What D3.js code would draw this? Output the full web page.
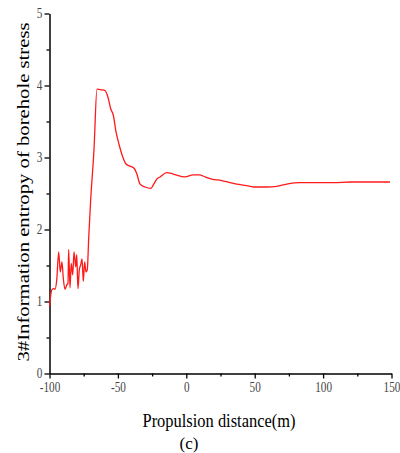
<!DOCTYPE html>
<html>
<head>
<meta charset="utf-8">
<script src="https://cdn.jsdelivr.net/npm/d3@7"></script>
<style>
  body { margin: 0; background: #fff; }
  svg { display: block; }
</style>
</head>
<body>
<svg width="400" height="453"></svg>
<script>
// distance (m) and entropy
const distance = [-100, -98.4, -97.2, -96, -94.7, -93.3, -92.1, -90.9, -89.9, -88.7, -87.4, -86.5, -86, -85,
  -84.1, -83, -82.1, -80.8, -80.1, -79.2, -78.2, -77.2, -76.2, -75.3, -74.3, -73.3, -72.4, -71.3, -69.9,
  -67.5, -65.3, -62, -59.4, -57, -55.3, -53.4, -51.4, -49, -46.5, -44.1, -41.2, -38.2, -36.3, -33.8,
  -30.2, -26, -24.1, -21.6, -19.2, -14.3, -9.5, -1, 5.1, 9.5, 13.7, 18.6, 25.9, 31.9, 36.8, 44.2, 49,
  58.8, 66.1, 73.4, 83.1, 95.3, 107.5, 119.7, 131.9, 148.9];
const entropy = [0.93, 1.16, 1.18, 1.17, 1.3, 1.69, 1.41, 1.55, 1.32, 1.17, 1.23, 1.25, 1.72, 1.19,
  1.53, 1.37, 1.69, 1.48, 1.65, 1.18, 1.44, 1.51, 1.59, 1.28, 1.55, 1.41, 1.44, 1.9, 2.41,
  3.1, 3.95, 3.94, 3.93, 3.82, 3.68, 3.59, 3.36, 3.17, 3.01, 2.91, 2.88, 2.85, 2.78, 2.63,
  2.59, 2.57, 2.62, 2.7, 2.73, 2.79, 2.77, 2.73, 2.76, 2.76, 2.73, 2.7, 2.68, 2.65, 2.63, 2.61, 2.59,
  2.59, 2.6, 2.63, 2.65, 2.65, 2.65, 2.66, 2.66, 2.66];

const xTicks = [-100, -50, 0, 50, 100, 150];
const yTicks = [0, 1, 2, 3, 4, 5];

const font = "Liberation Serif";
const svg = d3.select("svg").attr("font-family", font);

const x = d3.scaleLinear().domain([-100, 150]).range([49.5, 391.5]);
const y = d3.scaleLinear().domain([0, 5]).range([373.5, 13.5]);

// minor ticks
svg.append("g")
  .attr("transform", `translate(0, ${y(0)})`)
  .call(d3.axisBottom(x).tickValues(d3.range(-75, 150, 50)).tickSize(3).tickFormat(""))
  .call(g => g.select(".domain").remove())
  .selectAll("line").attr("stroke-width", 1.3);
svg.append("g")
  .attr("transform", `translate(${x(-100)}, 0)`)
  .call(d3.axisLeft(y).tickValues(d3.range(0.5, 5, 1)).tickSize(3).tickFormat(""))
  .call(g => g.select(".domain").remove())
  .selectAll("line").attr("stroke-width", 1.3);

// main axes
const gx = svg.append("g")
  .attr("transform", `translate(0, ${y(0)})`)
  .call(d3.axisBottom(x).tickValues(xTicks).tickSize(5).tickSizeOuter(0).tickPadding(4)
    .tickFormat(d => String(d)));
const gy = svg.append("g")
  .attr("transform", `translate(${x(-100)}, 0)`)
  .call(d3.axisLeft(y).tickValues(yTicks).tickSize(5).tickSizeOuter(0).tickPadding(4)
    .tickFormat(d => String(d)));

[gx, gy].forEach(g => {
  g.attr("font-family", font).attr("font-size", 14);
  g.select(".domain").attr("stroke-width", 1.5);
  g.selectAll("line").attr("stroke-width", 1.3);
  // the original figure is squeezed sideways, so the digits are narrow
  g.selectAll("text").attr("fill", "#444").attr("transform", "scale(0.8,1)");
});

// line
svg.append("path")
  .datum(distance.map((d, i) => [d, entropy[i]]))
  .attr("fill", "none")
  .attr("stroke", "#ff1a1a")
  .attr("stroke-width", 1.3)
  .attr("stroke-linejoin", "round")
  .attr("d", d3.line().curve(d3.curveMonotoneX).x(d => x(d[0])).y(d => y(d[1])));

// titles
svg.append("text")
  .attr("x", 219).attr("y", 427)
  .attr("text-anchor", "middle")
  .attr("font-size", 19)
  .attr("textLength", 153).attr("lengthAdjust", "spacingAndGlyphs")
  .text("Propulsion distance(m)");

svg.append("text")
  .attr("x", 189).attr("y", 449)
  .attr("text-anchor", "middle")
  .attr("font-size", 17)
  .text("(c)");

svg.append("text")
  .attr("transform", "translate(28.5, 192) rotate(-90)")
  .attr("text-anchor", "middle")
  .attr("font-size", 16)
  .attr("textLength", 339).attr("lengthAdjust", "spacingAndGlyphs")
  .text("3#Information entropy of borehole stress");
</script>
</body>
</html>
